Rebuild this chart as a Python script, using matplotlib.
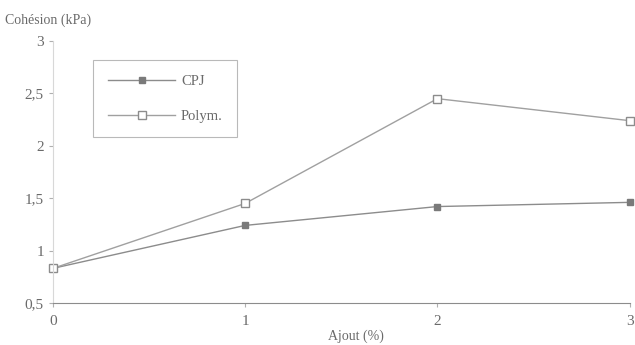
import matplotlib
matplotlib.use('Agg')
from matplotlib import pyplot as plt
import matplotlib.ticker as mtick

# Values
ajout = [0, 1, 2, 3]
cpj = [0.83, 1.24, 1.42, 1.46]
polym = [0.83, 1.45, 2.45, 2.24]
y_ticks = [0.5, 1, 1.5, 2, 2.5, 3]


def comma_formatter(x, pos):
    """French decimal comma for y tick labels."""
    return f'{x:g}'.replace('.', ',')


plt.rcParams['font.family'] = ['Liberation Serif', 'DejaVu Serif']
text_col = '#6a6a6a'
line_col = '#8c8c8c'

fig = plt.figure(figsize=(6.35, 3.45), dpi=100)
ax = fig.add_axes([0.0835, 0.122, 0.908, 0.759])

ax.plot(ajout, cpj, color=line_col, lw=1.0, marker='s', markersize=5,
        markerfacecolor='#7a7a7a', markeredgecolor='#7a7a7a', label='CPJ', clip_on=False)
ax.plot(ajout, polym, color='#a0a0a0', lw=1.0, marker='s', markersize=6,
        markerfacecolor='white', markeredgecolor='#8c8c8c', label='Polym.', clip_on=False)

ax.set_xlim(0, 3)
ax.set_ylim(0.5, 3)
ax.set_xticks(ajout)
ax.set_yticks(y_ticks)
ax.yaxis.set_major_formatter(mtick.FuncFormatter(comma_formatter))

for side in ['top', 'right']:
    ax.spines[side].set_visible(False)
ax.spines['left'].set_color('#d8d8d8')
ax.spines['bottom'].set_color(line_col)
ax.tick_params(colors='#b0b0b0', labelcolor=text_col, labelsize=11, length=3, width=0.8)
ax.tick_params(axis='x', pad=6)

fig.text(0.008, 0.94, 'Cohésion (kPa)', color=text_col, fontsize=10, va='center')
fig.text(0.56, 0.005, 'Ajout (%)', color=text_col, fontsize=10, ha='center', va='bottom')

leg = ax.legend(loc='upper left', bbox_to_anchor=(0.07, 0.928), borderaxespad=0,
                frameon=True, fancybox=False, fontsize=10.5, labelcolor=text_col,
                handlelength=4.6, handletextpad=0.4, borderpad=1.0, labelspacing=1.5)
leg.get_frame().set_edgecolor('#a8a8a8')
leg.get_frame().set_linewidth(0.8)

plt.savefig('out.png', dpi=100)
